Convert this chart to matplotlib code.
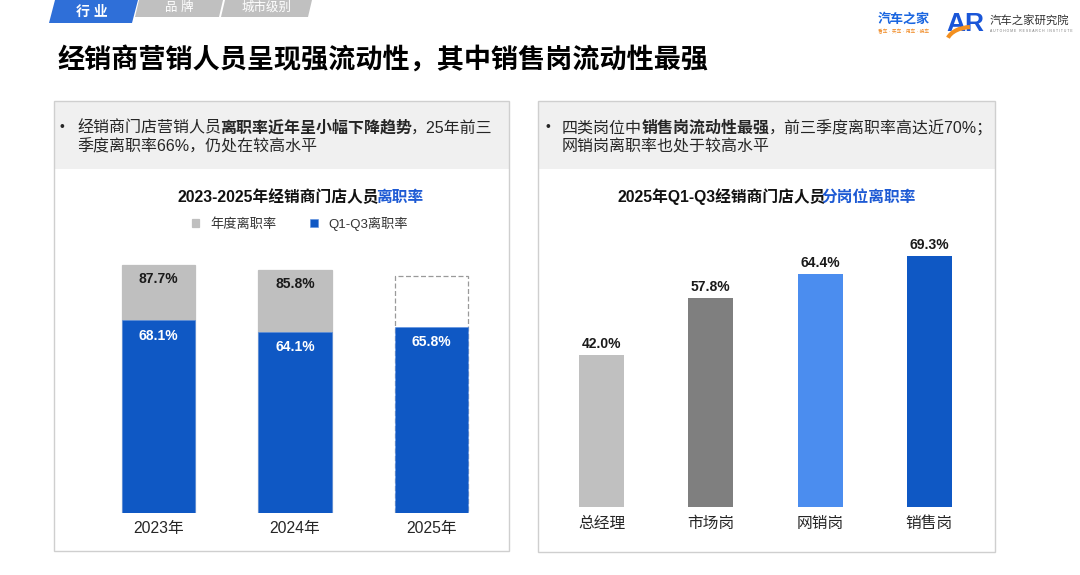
import matplotlib
matplotlib.use('Agg')
import matplotlib.pyplot as plt
from matplotlib.patches import Rectangle, Polygon, Arc

FAM = ['Liberation Sans', 'Noto Sans CJK SC']
plt.rcParams['font.family'] = FAM

# ---------------- data ----------------
years = ['2023年', '2024年', '2025年']
annual_rate = [87.7, 85.8, 83.7]          # 2025 annual not yet available (dashed outline)
annual_labels = ['87.7%', '85.8%', '']
q13_rate = [68.1, 64.1, 65.8]
q13_labels = ['68.1%', '64.1%', '65.8%']

positions = ['总经理', '市场岗', '网销岗', '销售岗']
position_rate = [42.0, 57.8, 64.4, 69.3]
position_labels = ['42.0%', '57.8%', '64.4%', '69.3%']
position_colors = ['#c0c0c0', '#7f7f7f', '#4b8def', '#0f58c4']

GRAY = '#bfbfbf'
BLUE = '#0f58c4'
TITLE_BLUE = '#1d5ad4'
TXT = '#262626'

fig = plt.figure(figsize=(10.8, 5.75), dpi=100)
bg = fig.add_axes([0, 0, 1, 1], zorder=0)
bg.set_xlim(0, 1080)
bg.set_ylim(575, 0)
bg.axis('off')
renderer = fig.canvas.get_renderer()


def _w(s, size, bold):
    t = bg.text(0, 0, s, fontsize=size, fontweight='bold' if bold else 'normal')
    w = t.get_window_extent(renderer).width
    t.remove()
    return w


def is_cjk(ch):
    return ord(ch) >= 0x2E80


def adv(s, size, bold):
    em = size * 100 / 72
    total, run = 0.0, ''
    for ch in s:
        if is_cjk(ch):
            if run:
                total += _w(run, size, bold) - 0.12 * em
                run = ''
            total += em
        else:
            run += ch
    if run:
        total += _w(run, size, bold) + 0.06 * em
    return total


def rich(x, y, segs, size, ha='left'):
    widths = [adv(s, size, b) for s, b, c in segs]
    start = x - sum(widths) / 2 if ha == 'center' else x
    for (s, bold, color), w in zip(segs, widths):
        bg.text(start, y, s, fontsize=size, fontweight='bold' if bold else 'normal',
                color=color, va='center', ha='left')
        start += w - 0.6


# ---------------- tabs ----------------
bg.add_patch(Polygon([(49, 23), (55, 0), (138, 0), (132, 23)], closed=True, fc='#2f6fd8', ec='none'))
bg.add_patch(Polygon([(135, 17), (139, 0), (223, 0), (219, 17)], closed=True, fc='#c0c0c0', ec='none'))
bg.add_patch(Polygon([(221, 17), (225, 0), (312, 0), (308, 17)], closed=True, fc='#c0c0c0', ec='none'))
bg.text(92, 12, '行 业', fontsize=10, fontweight='bold', color='white', ha='center', va='center')
bg.text(179, 7.5, '品 牌', fontsize=9, color='white', ha='center', va='center')
bg.text(267, 7.5, '城市级别', fontsize=9, color='white', ha='center', va='center')

# ---------------- main title ----------------
bg.text(58, 60, '经销商营销人员呈现强流动性，其中销售岗流动性最强', fontsize=19.5,
        fontweight='bold', color='black', ha='left', va='center')

# ---------------- logos ----------------
bg.text(878, 19, '汽车之家', fontsize=9.4, fontweight='bold', color='#1a66e0', ha='left', va='center')
bg.text(878, 32, '看车 · 买车 · 用车 · 换车', fontsize=3.4, color='#f08a24', ha='left', va='center')
bg.text(946, 24, 'AR', fontsize=19, fontweight='bold', color='#1a56d8', ha='left', va='center')
bg.add_patch(Arc((972, 42), 50, 30, theta1=190, theta2=262, color='#f39020', lw=3, zorder=5))
bg.text(990, 20, '汽车之家研究院', fontsize=8.2, color='#333333', ha='left', va='center')
bg.text(990, 31, 'A U T O H O M E   R E S E A R C H   I N S T I T U T E', fontsize=2.4,
        color='#777777', ha='left', va='center')

# ---------------- panels ----------------
for (x0, y0, w, h) in [(54, 101, 455, 450), (538, 101, 457, 451)]:
    bg.add_patch(Rectangle((x0, y0), w, 68, fc='#f0f0f0', ec='none'))
    bg.add_patch(Rectangle((x0, y0), w, h, fill=False, ec='#cfcfcf', lw=1))

# header texts
HS = 11.5
bg.text(62, 127, '•', fontsize=10, color=TXT, ha='center', va='center')
rich(77, 128, [('经销商门店营销人员', False, TXT), ('离职率近年呈小幅下降趋势', True, TXT),
               ('，25年前三', False, TXT)], HS)
rich(77, 147, [('季度离职率66%，仍处在较高水平', False, TXT)], HS)

bg.text(548, 127, '•', fontsize=10, color=TXT, ha='center', va='center')
rich(562, 128, [('四类岗位中', False, TXT), ('销售岗流动性最强', True, TXT),
                ('，前三季度离职率高达近70%；', False, TXT)], HS)
rich(562, 147, [('网销岗离职率也处于较高水平', False, TXT)], HS)

# chart titles
rich(301, 197, [('2023-2025年经销商门店人员', True, '#111111'), ('离职率', True, TITLE_BLUE)], 11.3, ha='center')
rich(767, 197, [('2025年Q1-Q3经销商门店人员', True, '#111111'), ('分岗位离职率', True, TITLE_BLUE)], 11.3, ha='center')

# ---------------- left chart ----------------
axL = fig.add_axes([90 / 1080, 1 - 513 / 575, 410 / 1080, 283 / 575], zorder=1)
axL.patch.set_alpha(0)
xl = list(range(len(years)))
ann_bars = axL.bar(xl, annual_rate, width=0.535,
                   color=[GRAY, GRAY, 'white'], edgecolor=[GRAY, GRAY, '#9a9a9a'], linewidth=0.9)
ann_bars[2].set_linestyle((0, (4, 2)))
q_bars = axL.bar(xl, q13_rate, width=0.535, color=BLUE, edgecolor='#5b8fe0', linewidth=0.4)
axL.set_xlim(-0.5, 2.5)
axL.set_ylim(0, 100)
for b, lab in zip(ann_bars, annual_labels):
    axL.annotate(lab, (b.get_x() + b.get_width() / 2, b.get_height()), xytext=(0, -10),
                 textcoords='offset points', ha='center', va='center', fontsize=10,
                 fontweight='bold', color='#1a1a1a')
for b, lab in zip(q_bars, q13_labels):
    axL.annotate(lab, (b.get_x() + b.get_width() / 2, b.get_height()), xytext=(0, -11),
                 textcoords='offset points', ha='center', va='center', fontsize=10,
                 fontweight='bold', color='white')
axL.set_xticks(xl)
axL.set_xticklabels(years, fontsize=11.3, color=TXT)
axL.set_yticks([])
axL.tick_params(axis='x', length=0, pad=5.5)
for s in axL.spines.values():
    s.set_visible(False)
leg = axL.legend(handles=[ann_bars[0], q_bars[0]], labels=['年度离职率', 'Q1-Q3离职率'],
                 loc='center', bbox_to_anchor=(300 / 1080, 1 - 224 / 575), bbox_transform=fig.transFigure,
                 ncol=2, frameon=False, fontsize=9.5, handlelength=0.55, handleheight=0.55,
                 handletextpad=0.8, columnspacing=2.6)
for t in leg.get_texts():
    t.set_color('#333333')

# ---------------- right chart ----------------
top_r = 507 - 75 * 3.62
axR = fig.add_axes([546.9 / 1080, 1 - 507 / 575, (984.1 - 546.9) / 1080, (507 - top_r) / 575], zorder=1)
axR.patch.set_alpha(0)
xr = list(range(len(positions)))
r_bars = axR.bar(xr, position_rate, width=0.41, color=position_colors)
axR.set_xlim(-0.5, 3.5)
axR.set_ylim(0, 75)
for b, lab in zip(r_bars, position_labels):
    axR.annotate(lab, (b.get_x() + b.get_width() / 2, b.get_height()), xytext=(0, 8),
                 textcoords='offset points', ha='center', va='center', fontsize=10,
                 fontweight='bold', color='#1a1a1a')
axR.set_xticks(xr)
axR.set_xticklabels(positions, fontsize=11.3, color=TXT)
axR.set_yticks([])
axR.tick_params(axis='x', length=0, pad=6.5)
for s in axR.spines.values():
    s.set_visible(False)

fig.savefig('out.png', dpi=100)
